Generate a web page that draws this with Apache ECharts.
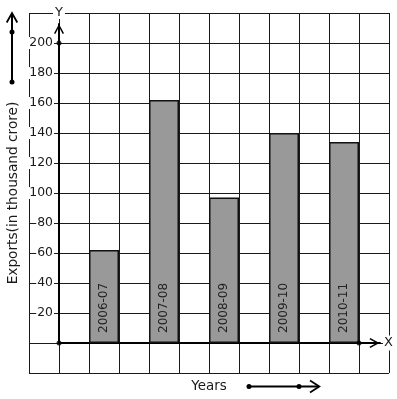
<!DOCTYPE html>
<html>
<head>
<meta charset="utf-8">
<script src="https://cdn.jsdelivr.net/npm/echarts@6/dist/echarts.min.js"></script>
<style>
html,body{margin:0;padding:0;background:#fff;}
#c{width:397px;height:399px;}
</style>
</head>
<body>
<div id="c"></div>
<script>
// ---- data ----
var years = ['2006-07', '2007-08', '2008-09', '2009-10', '2010-11'];
var exports = [62, 162, 97, 140, 134];
var yTicks = [20, 40, 60, 80, 100, 120, 140, 160, 180, 200];
// grid slots: 12 columns, bars sit in every second column starting at the third
var slotCount = 12;
var firstBarSlot = 2;
var slotStep = 2;
// marker dots on the axes (column units, value)
var axisDots = [[0, 0], [0, 200], [10, 0]];

// ---- build slot arrays ----
var slotNames = [];
var slotValues = [];
for (var i = 0; i < slotCount; i++) { slotNames.push('s' + i); slotValues.push(null); }
for (var k = 0; k < years.length; k++) {
  slotValues[firstBarSlot + k * slotStep] = exports[k];
}
function yearForSlot(idx) {
  var k = (idx - firstBarSlot) / slotStep;
  return years[k] || '';
}

var FONT = 'DejaVu Sans';
var INK = '#1a1a1a';
var chevron = 'path://M0,9.2 L5,0 L10,9.2 L8.7,10 L5,3.1 L1.3,10 Z';

var chart = echarts.init(document.getElementById('c'), null, {renderer: 'canvas'});
chart.setOption({
  animation: false,
  backgroundColor: '#fff',
  grid: [
    {left: 29, right: 8, top: 13, bottom: 26, containLabel: false, outerBoundsMode: 'none'},
    {left: 59, right: 17, top: 24, bottom: 56, containLabel: false, outerBoundsMode: 'none'}
  ],
  xAxis: [
    {
      gridIndex: 0, type: 'category', data: slotNames, boundaryGap: true,
      axisLine: {show: false}, axisTick: {show: false}, axisLabel: {show: false},
      splitLine: {show: true, interval: 0, lineStyle: {color: INK, width: 1}},
      name: 'Years', nameLocation: 'middle', nameGap: 7,
      nameTextStyle: {fontFamily: FONT, fontSize: 13.4, color: INK, verticalAlign: 'top'}
    },
    {
      gridIndex: 1, type: 'value', min: 0, max: 10.7,
      axisLine: {show: true, lineStyle: {color: '#000', width: 2}, symbol: ['none', chevron], symbolSize: [10, 11], symbolOffset: [0, -5.5]},
      axisTick: {show: false}, axisLabel: {show: false}, splitLine: {show: false},
      name: 'X', nameLocation: 'end', nameGap: 3,
      nameTextStyle: {fontFamily: FONT, fontSize: 13, color: INK, backgroundColor: '#fff', padding: [1, 1]}
    }
  ],
  yAxis: [
    {
      gridIndex: 0, type: 'value', min: -20, max: 220, interval: 20,
      axisLine: {show: false}, axisTick: {show: false}, axisLabel: {show: false},
      splitLine: {show: true, lineStyle: {color: INK, width: 1}},
      name: 'Exports(in thousand crore)', nameLocation: 'middle', nameGap: 9,
      nameTextStyle: {fontFamily: FONT, fontSize: 13.7, color: INK}
    },
    {
      gridIndex: 1, type: 'value', min: 0, max: 212.67, interval: 20,
      axisLine: {show: true, lineStyle: {color: '#000', width: 2}, symbol: ['none', chevron], symbolSize: [10, 10], symbolOffset: [0, -5]},
      axisTick: {show: false}, splitLine: {show: false},
      axisLabel: {
        show: true, margin: 5, fontFamily: FONT, fontSize: 12.4, color: INK,
        backgroundColor: '#fff', padding: [0, 1],
        formatter: function (v) { return yTicks.indexOf(v) >= 0 ? String(v) : ''; }
      },
      name: 'Y', nameLocation: 'end', nameGap: 5,
      nameTextStyle: {fontFamily: FONT, fontSize: 13, color: INK, backgroundColor: '#fff', padding: [0, 2], align: 'center'}
    }
  ],
  series: [
    {
      type: 'bar', xAxisIndex: 0, yAxisIndex: 0,
      data: slotValues, barWidth: '100%',
      itemStyle: {color: '#999999', borderColor: '#111', borderWidth: 1.5},
      label: {
        show: true, position: 'insideBottom', distance: 10, rotate: 90,
        align: 'left', verticalAlign: 'middle',
        fontFamily: FONT, fontSize: 12, color: '#222',
        formatter: function (p) { return yearForSlot(p.dataIndex); }
      },
      z: 3
    },
    {
      type: 'scatter', xAxisIndex: 1, yAxisIndex: 1,
      data: axisDots, symbol: 'circle', symbolSize: 5,
      itemStyle: {color: '#000'}, z: 6, silent: true
    }
  ],
  graphic: [
    {type: 'line', shape: {x1: 12, y1: 82, x2: 12, y2: 14}, style: {stroke: '#000', lineWidth: 2}},
    {type: 'polyline', shape: {points: [[6.7, 22.5], [12, 13], [17.3, 22.5]]}, style: {stroke: '#000', lineWidth: 1.8, fill: null}},
    {type: 'circle', shape: {cx: 12, cy: 32, r: 2.5}, style: {fill: '#000'}},
    {type: 'circle', shape: {cx: 12, cy: 82, r: 2.5}, style: {fill: '#000'}},
    {type: 'line', shape: {x1: 249, y1: 386.5, x2: 318, y2: 386.5}, style: {stroke: '#000', lineWidth: 2}},
    {type: 'polyline', shape: {points: [[310, 380.5], [319.3, 386.5], [310, 392.5]]}, style: {stroke: '#000', lineWidth: 1.8, fill: null}},
    {type: 'circle', shape: {cx: 249, cy: 386.5, r: 2.5}, style: {fill: '#000'}},
    {type: 'circle', shape: {cx: 299, cy: 386.5, r: 2.5}, style: {fill: '#000'}}
  ]
});
</script>
</body>
</html>
